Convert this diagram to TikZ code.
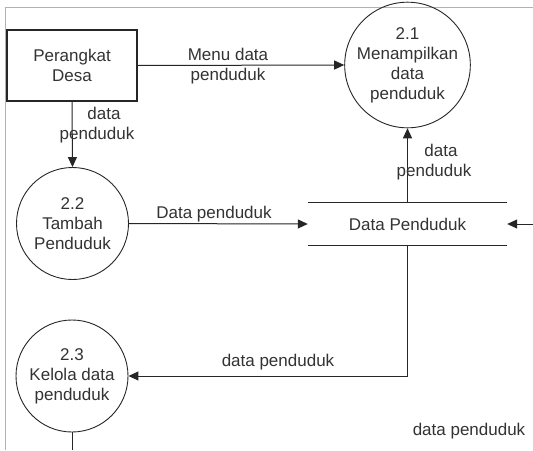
\documentclass[tikz,border=0pt]{standalone}
\usepackage{fontspec}
\setmainfont{Liberation Sans}
\usetikzlibrary{arrows.meta}
\begin{document}
\begin{tikzpicture}[x=1pt,y=-1pt,
  every node/.style={text=black!80, font=\fontsize{17}{20}\selectfont},
  proc/.style={draw=black!85, line width=0.9pt, circle, minimum size=112pt, inner sep=0pt, align=center},
  ent/.style={draw=black!85, line width=1.2pt, rectangle, minimum width=130pt, minimum height=71pt, inner sep=0pt, align=center},
  store/.style={rectangle, minimum width=199pt, minimum height=42pt, inner sep=0pt},
  flow/.style={draw=black!85, line width=1pt, -{Triangle[length=10pt,width=9pt]}},
  plain/.style={draw=black!85, line width=1pt},
  lbl/.style={align=center, inner sep=0pt}]
\useasboundingbox (0,0) rectangle (533,450);
\fill[white] (0,0) rectangle (533,450);
\draw[black!30, line width=0.8pt] (533,7) -- (5,7) -- (5,450);

\node[ent] (pd) at (72,65.5) {Perangkat\\Desa};
\node[proc] (p21) at (407.5,65) {2.1\\Menampilkan\\data\\penduduk};
\node[proc] (p22) at (72.5,223.5) {2.2\\Tambah\\Penduduk};
\node[proc] (p23) at (72,376) {2.3\\Kelola data\\penduduk};
\node[store] (ds) at (407.5,224) {Data Penduduk};
\draw[plain] (ds.north west) -- (ds.north east);
\draw[plain] (ds.south west) -- (ds.south east);

\coordinate (rin) at (533,224);
\coordinate (bot) at (72,450);

\draw[flow] (pd.east) -- (p21.west);
\draw[flow] (pd.south) -- (p22.north);
\draw[flow] (ds.north) -- (p21.south);
\draw[flow] (p22.east) -- (ds.west);
\draw[flow] (rin) -- (ds.east);
\draw[flow] (ds.south) |- (p23.east);
\draw[plain] (p23.south) -- (bot);

\node[lbl] (l1) at (228,66) {Menu data\\penduduk};
\node[lbl] (l2) at (97,125.5) {\hspace*{14pt}data\\penduduk};
\node[lbl] (l3) at (434,162.5) {\hspace*{14pt}data\\penduduk};
\node[lbl] (l4) at (214,214) {Data penduduk};
\node[lbl] (l5) at (278,362) {data penduduk};
\node[lbl] (l6) at (469,431) {data penduduk};
\end{tikzpicture}
\end{document}
